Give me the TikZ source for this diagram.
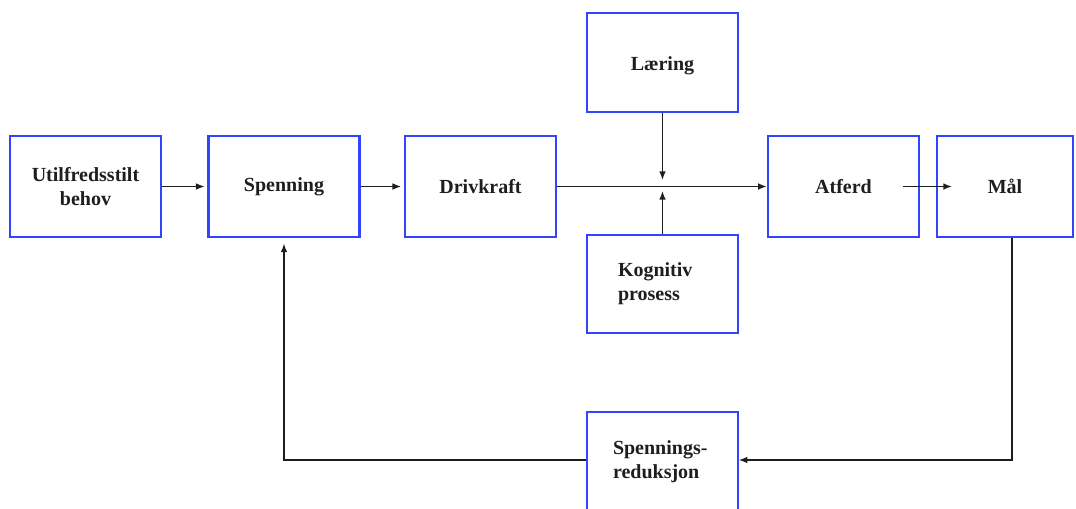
\documentclass[tikz,border=0pt]{standalone}
\usepackage{fontspec}
\setmainfont{Liberation Serif}
\usetikzlibrary{arrows.meta}
\definecolor{boxblue}{RGB}{51,68,255}
\definecolor{ink}{RGB}{30,30,30}
\tikzset{
  box/.style={draw=boxblue, line width=1.8pt, minimum width=113.25pt, minimum height=75.75pt,
    inner sep=0pt, font=\fontsize{15}{18}\selectfont\bfseries, text=ink, align=center},
  leftbox/.style={box, align=left, text width=66.75pt, inner xsep=23.25pt},
  arr/.style={draw=ink, line width=1.05pt, -{Latex[length=6.5pt,width=5pt]}},
  plain/.style={draw=ink, line width=1.05pt}
}
\begin{document}
\begin{tikzpicture}[x=0.75pt,y=-0.75pt]
\useasboundingbox (0,0) rectangle (1076,508);
\clip (0,0) rectangle (1076,508);
\node[box] (b1) at (85.5,186.5) {Utilfredsstilt\\behov};
\node[box] (b2) at (284,186.5) {Spenning};
\node[box] (b3) at (480.5,186.5) {Drivkraft};
\node[box, minimum height=74.25pt] (lae) at (662.5,62.5) {\rule{0pt}{16pt}Læring};
\node[leftbox, minimum height=73.5pt, inner xsep=23.25pt] (kog) at (662.5,284) {Kognitiv\\prosess};
\node[box] (atf) at (843.5,186.5) {Atferd};
\node[box, minimum width=102pt] (mal) at (1005,186.5) {Mål};
\node[leftbox, line width=1pt, minimum height=75pt, inner xsep=19.5pt, text width=74.25pt] (red) at (662.5,462) {Spennings-\\reduksjon};
% main flow
\draw[arr, shorten >=2pt] (b1.east) -- (b2.west);
\draw[arr, shorten >=2pt] (b2.east) -- (b3.west);
\draw[arr] (b3.east) -- (atf.west);
\coordinate (jt) at (662.5,180);
\coordinate (jb) at (662.5,191);
\draw[arr] (lae.south) -- (jt);
\draw[arr] (kog.north) -- (jb);
\coordinate (a1) at (903,186.5);
\coordinate (a2) at (952,186.5);
\draw[arr] (a1) -- (a2);
% feedback loop
\coordinate (m) at (1012,460);
\draw[arr] (mal.south -| m) -- (m) -- (red.east |- m);
\coordinate (s) at (284,460);
\draw[arr, shorten >=4pt] (red.west |- s) -- (s) -- (b2.south);
\end{tikzpicture}
\end{document}
